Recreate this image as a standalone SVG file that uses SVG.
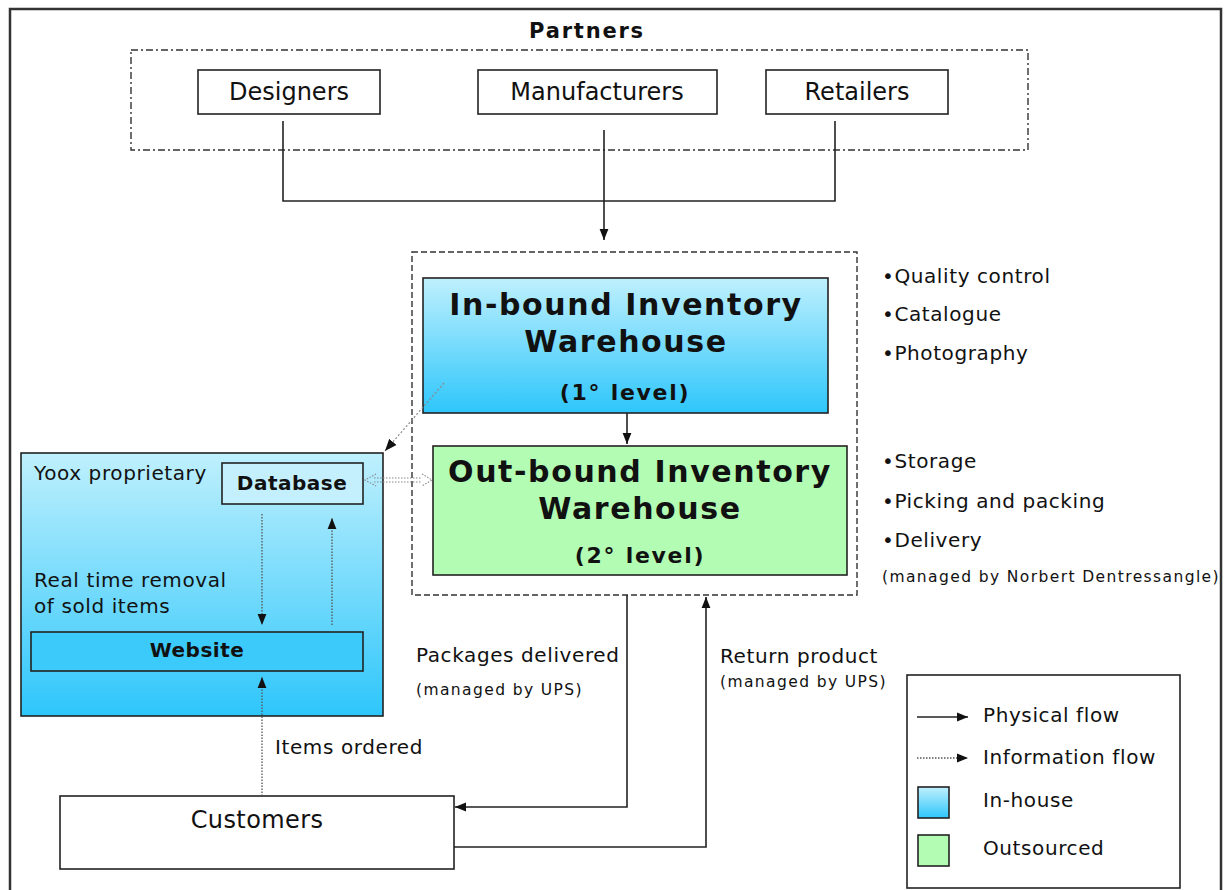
<svg xmlns="http://www.w3.org/2000/svg" width="1230" height="890" viewBox="0 0 1230 890">
<defs>
<linearGradient id="gBlue" x1="0" y1="0" x2="0" y2="1">
<stop offset="0" stop-color="#bff0fd"/>
<stop offset="1" stop-color="#2ec6fb"/>
</linearGradient>
<marker id="arr" markerUnits="userSpaceOnUse" markerWidth="11" markerHeight="11" viewBox="0 0 10 10" refX="10" refY="5" orient="auto">
<path d="M0,1 L10,5 L0,9 z" fill="#111"/>
</marker>
<marker id="arrG" markerUnits="userSpaceOnUse" markerWidth="12" markerHeight="12" viewBox="0 0 10 10" refX="10" refY="5" orient="auto">
<path d="M0,1 L10,5 L0,9 z" fill="#111"/>
</marker>
</defs>
<style>
text{font-family:"DejaVu Sans",Verdana,sans-serif;fill:#111}
.reg{font-size:20px;letter-spacing:0.6px}
.big{font-size:24px}
.sm{font-size:15.5px;letter-spacing:1.4px}
.bh{font-size:30px;font-weight:bold;letter-spacing:1.6px}
.bl{font-size:22px;font-weight:bold;letter-spacing:1.7px}
.bb{font-size:20px;font-weight:bold;letter-spacing:0.5px}
.box{fill:#fff;stroke:#222;stroke-width:1.6}
.ln{fill:none;stroke:#222;stroke-width:1.6}
.dot{fill:none;stroke:#555;stroke-width:1.3;stroke-dasharray:1.5 1.5}
</style>
<rect x="10" y="9" width="1211" height="900" fill="#fff" stroke="#333" stroke-width="2.5"/>

<g id="partners">
<rect x="131" y="50" width="897" height="100" fill="none" stroke="#333" stroke-width="1.4" stroke-dasharray="7 3 2 3"/>
<text x="587" y="38" text-anchor="middle" style="font-size:21px;font-weight:bold;letter-spacing:1.8px">Partners</text>
</g>
<g id="designers">
<rect class="box" x="198" y="70" width="182" height="44"/>
<text class="big" x="289" y="100" text-anchor="middle">Designers</text>
</g>
<g id="manufacturers">
<rect class="box" x="478" y="70" width="239" height="44"/>
<text class="big" x="597" y="100" text-anchor="middle">Manufacturers</text>
</g>
<g id="retailers">
<rect class="box" x="766" y="70" width="182" height="44"/>
<text class="big" x="857" y="100" text-anchor="middle">Retailers</text>
</g>

<g id="inventory">
<rect x="412" y="252" width="445" height="343" fill="none" stroke="#333" stroke-width="1.4" stroke-dasharray="6 3"/>
</g>
<g id="inbound">
<rect x="423" y="278" width="405" height="135" fill="url(#gBlue)" stroke="#222" stroke-width="1.6"/>
<text class="bh" x="626" y="315" text-anchor="middle">In-bound Inventory</text>
<text class="bh" x="626" y="352" text-anchor="middle">Warehouse</text>
<text class="bl" x="625" y="400" text-anchor="middle">(1° level)</text>
</g>
<g id="outbound">
<rect x="433" y="446" width="414" height="129" fill="#b3fcb3" stroke="#222" stroke-width="1.6"/>
<text class="bh" x="640" y="482" text-anchor="middle">Out-bound Inventory</text>
<text class="bh" x="640" y="519" text-anchor="middle">Warehouse</text>
<text class="bl" x="640" y="563" text-anchor="middle">(2° level)</text>
</g>

<g id="inbound-tasks">
<text class="reg" x="882" y="283">•Quality control</text>
<text class="reg" x="882" y="321">•Catalogue</text>
<text class="reg" x="882" y="360">•Photography</text>
</g>
<g id="outbound-tasks">
<text class="reg" x="882" y="468">•Storage</text>
<text class="reg" x="882" y="508">•Picking and packing</text>
<text class="reg" x="882" y="547">•Delivery</text>
<text class="sm" x="882" y="582">(managed by Norbert Dentressangle)</text>
</g>

<g id="yoox">
<rect x="21" y="453" width="362" height="263" fill="url(#gBlue)" stroke="#222" stroke-width="1.6"/>
<text class="reg" x="34" y="480">Yoox proprietary</text>
<text class="reg" x="34" y="587">Real time removal</text>
<text class="reg" x="34" y="613">of sold items</text>
</g>
<g id="database">
<rect x="222" y="463" width="141" height="41" fill="#c3f0fc" stroke="#222" stroke-width="1.6"/>
<text class="bb" x="292" y="490" text-anchor="middle">Database</text>
</g>
<g id="website">
<rect x="31" y="632" width="332" height="39" fill="#3ccafb" stroke="#222" stroke-width="1.6"/>
<text class="bb" x="197" y="657" text-anchor="middle">Website</text>
</g>

<g id="customers">
<rect class="box" x="60" y="796" width="394" height="73"/>
<text x="257" y="828" text-anchor="middle" style="font-size:24px;letter-spacing:0.4px">Customers</text>
</g>

<g id="connectors">
<path class="ln" d="M283,121 V201 H835 V121"/>
<path class="ln" d="M604,130 V240" marker-end="url(#arr)"/>
<path class="ln" d="M627,413 V444" marker-end="url(#arr)"/>
<path class="ln" d="M627,595 V807 H455" marker-end="url(#arr)"/>
<path class="ln" d="M454,847 H706 V597" marker-end="url(#arr)"/>
<path class="dot" d="M262,514 V625" marker-end="url(#arr)"/>
<path class="dot" d="M332,625 V518" marker-end="url(#arr)"/>
<path class="dot" d="M262,796 V677" marker-end="url(#arr)"/>
<path d="M444,383 L385,451" fill="none" stroke="#888" stroke-width="1.2" stroke-dasharray="2 2" marker-end="url(#arrG)"/>
<g fill="none" stroke="#888" stroke-width="1.1" stroke-dasharray="1.5 1.5">
<path d="M374,478 H422"/>
<path d="M374,482 H422"/>
<path d="M376,474 L365,480 L376,486"/>
<path d="M422,474 L432,480 L422,486"/>
</g>
<text class="reg" x="416" y="662">Packages delivered</text>
<text class="sm" x="416" y="695">(managed by UPS)</text>
<text class="reg" x="720" y="663">Return product</text>
<text class="sm" x="720" y="687">(managed by UPS)</text>
<text class="reg" x="275" y="754">Items ordered</text>
</g>

<g id="legend">
<rect class="box" x="907" y="675" width="273" height="213"/>
<path class="ln" d="M917,717 H968" marker-end="url(#arr)"/>
<text class="reg" x="983" y="722">Physical flow</text>
<path class="dot" d="M917,758 H968" marker-end="url(#arr)"/>
<text class="reg" x="983" y="764">Information flow</text>
<rect x="918" y="787" width="31" height="31" fill="url(#gBlue)" stroke="#222" stroke-width="1.6"/>
<text class="reg" x="983" y="807">In-house</text>
<rect x="918" y="835" width="31" height="31" fill="#b3fcb3" stroke="#222" stroke-width="1.6"/>
<text class="reg" x="983" y="855">Outsourced</text>
</g>
</svg>
